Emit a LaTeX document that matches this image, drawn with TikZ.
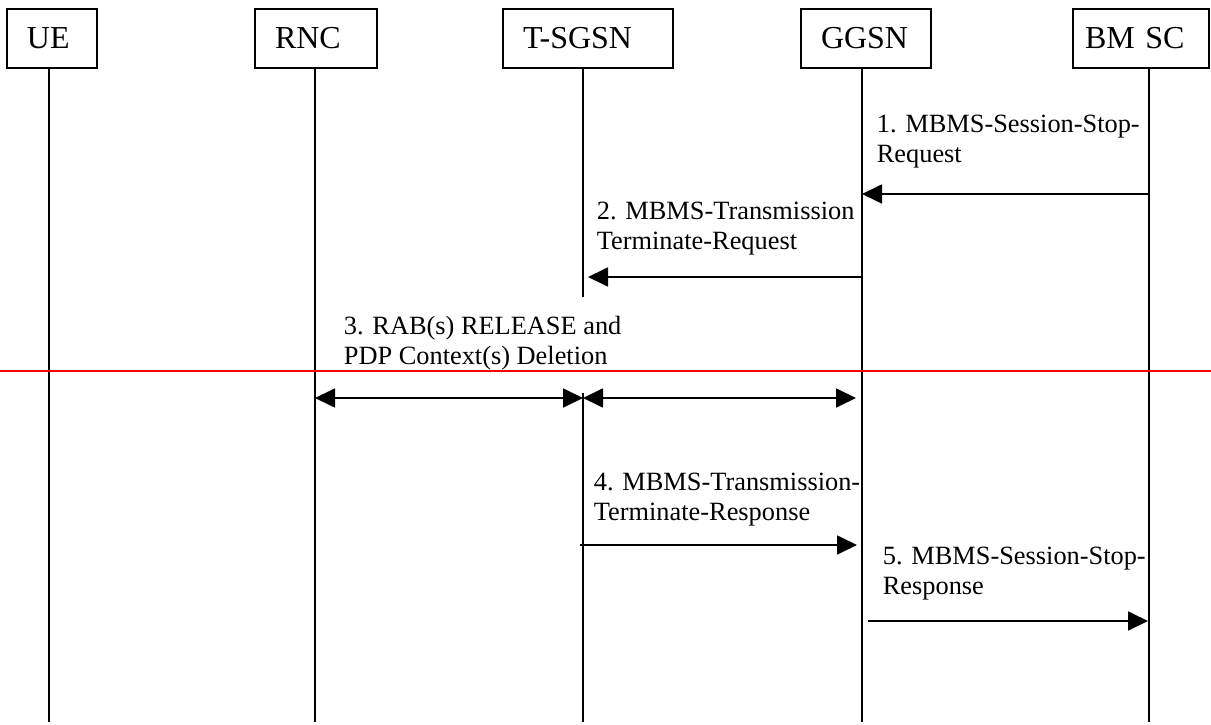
\documentclass[tikz,border=0pt]{standalone}
\usepackage{fontspec}
\setmainfont{Liberation Serif}
\usetikzlibrary{arrows.meta}

\begin{document}
\begin{tikzpicture}[
    line width=1pt,
    entity/.style={draw, minimum height=1.18cm, inner xsep=0.4cm, inner ysep=0pt, align=left, font=\fontsize{18.2}{21}\selectfont},
    msg/.style={-{Triangle[length=0.4cm,width=0.38cm]}},
    bimsg/.style={{Triangle[length=0.4cm,width=0.38cm]}-{Triangle[length=0.4cm,width=0.38cm]}},
    note/.style={anchor=west, align=left, inner sep=0pt, font=\fontsize{15}{17.1}\selectfont}
  ]

  \useasboundingbox (0,0) rectangle (24.22,-14.5);

  % entities
  \node[entity, text width=1.0cm] (ue) at (1.04,-0.77) {UE};
  \node[entity, text width=1.64cm] (rnc) at (6.32,-0.77) {RNC};
  \node[entity, text width=2.6cm] (sgsn) at (11.76,-0.77) {T-SGSN};
  \node[entity, text width=1.8cm] (ggsn) at (17.32,-0.77) {GGSN};
  \node[entity, text width=2.24cm, inner xsep=0.24cm] (bmsc) at (22.82,-0.77) {BM SC};

  \coordinate (ue-end) at (0.98,-14.44);
  \coordinate (rnc-end) at (6.30,-14.44);
  \coordinate (sgsn-end) at (11.66,-14.44);
  \coordinate (ggsn-end) at (17.24,-14.44);
  \coordinate (bmsc-end) at (22.98,-14.44);

  % lifelines
  \foreach \e in {ue,rnc,ggsn,bmsc}
      \draw (\e-end |- \e.south) -- (\e-end);
  \coordinate (sgsn-cut) at (11.66,-5.94);
  \coordinate (sgsn-resume) at (11.66,-7.86);
  \draw (sgsn-end |- sgsn.south) -- (sgsn-cut); % broken under step 3
  \draw (sgsn-resume) -- (sgsn-end);

  \coordinate (m1) at (0,-3.88);
  \coordinate (m2) at (0,-5.54);
  \coordinate (m3) at (0,-7.96);
  \coordinate (m4) at (0,-10.9);
  \coordinate (m5) at (0,-12.42);

  % messages
  \node[note] (l1) at (17.52,-2.84) {1. MBMS-Session-Stop-\\Request};
  \draw[msg] (bmsc-end |- m1) -- (ggsn-end |- m1);

  \node[note] (l2) at (11.92,-4.58) {2. MBMS-Transmission\\Terminate-Request};
  \draw[msg, shorten >=0.1cm] (ggsn-end |- m2) -- (sgsn-end |- m2);

  \node[note] (l3) at (6.86,-6.87) {3. RAB(s) RELEASE and\\PDP Context(s) Deletion};
  \draw[red, line width=1.1pt] (0,-7.42) -- (24.22,-7.42);
  \draw[bimsg] (rnc-end |- m3) -- (sgsn-end |- m3);
  \draw[bimsg, shorten >=0.12cm] (sgsn-end |- m3) -- (ggsn-end |- m3);

  \node[note] (l4) at (11.86,-10.0) {4. MBMS-Transmission-\\Terminate-Response};
  \draw[msg, shorten <=-0.06cm, shorten >=0.1cm] (sgsn-end |- m4) -- (ggsn-end |- m4);

  \node[note] (l5) at (17.64,-11.48) {5. MBMS-Session-Stop-\\Response};
  \draw[msg, shorten <=0.12cm, shorten >=0.02cm] (ggsn-end |- m5) -- (bmsc-end |- m5);

\end{tikzpicture}
\end{document}
